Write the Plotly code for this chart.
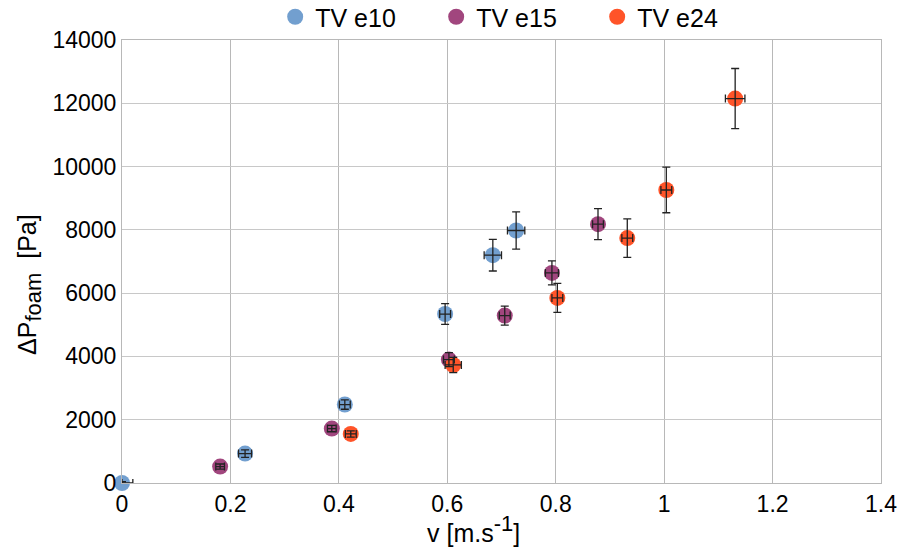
import plotly.graph_objects as go

# TV e10
e10_v = [0.0, 0.227, 0.411, 0.596, 0.684, 0.727]
e10_p = [0, 930, 2480, 5340, 7200, 7980]
e10_v_err = [0.02, 0.012, 0.01, 0.01, 0.016, 0.016]
e10_v_errm = [0.0, 0.012, 0.01, 0.01, 0.016, 0.016]
e10_p_err = [40, 120, 150, 330, 500, 590]

# TV e15
e15_v = [0.181, 0.387, 0.603, 0.706, 0.793, 0.878]
e15_p = [520, 1720, 3900, 5290, 6640, 8180]
e15_v_err = [0.008, 0.008, 0.01, 0.01, 0.012, 0.01]
e15_p_err = [80, 100, 220, 300, 380, 490]

# TV e24
e24_v = [0.422, 0.611, 0.803, 0.932, 1.004, 1.131]
e24_p = [1550, 3730, 5850, 7740, 9260, 12150]
e24_v_err = [0.01, 0.015, 0.01, 0.01, 0.01, 0.018]
e24_p_err = [100, 240, 460, 610, 720, 950]

x_ticks = [0, 0.2, 0.4, 0.6, 0.8, 1, 1.2, 1.4]
x_tick_labels = ["0", "0.2", "0.4", "0.6", "0.8", "1", "1.2", "1.4"]
y_ticks = [0, 2000, 4000, 6000, 8000, 10000, 12000, 14000]

x_title = 'v [m.s<sup><span style="font-size:22px">-1</span></sup>]'
y_title = 'ΔP<sub><span style="font-size:22px">foam</span></sub>  [Pa]'

series = [
    ("TV e10", e10_v, e10_p, e10_v_err, e10_v_errm, e10_p_err, "#729fcf"),
    ("TV e15", e15_v, e15_p, e15_v_err, e15_v_err, e15_p_err, "#a1467e"),
    ("TV e24", e24_v, e24_p, e24_v_err, e24_v_err, e24_p_err, "#ff5429"),
]

fig = go.Figure()
# markers first
for name, xv, yv, xe, xem, ye, col in series:
    fig.add_trace(go.Scatter(
        x=xv, y=yv, mode="markers", name=name, cliponaxis=False,
        marker=dict(color=col, size=16, line=dict(width=0)),
    ))
# error bars on top of markers
for name, xv, yv, xe, xem, ye, col in series:
    fig.add_trace(go.Scatter(
        x=xv, y=yv, mode="markers", name=name + " err", showlegend=False,
        cliponaxis=False,
        marker=dict(color="rgba(0,0,0,0)", size=1),
        error_x=dict(type="data", array=xe, arrayminus=xem, symmetric=False,
                     color="#222222", thickness=1.3, width=4),
        error_y=dict(type="data", array=ye, color="#222222", thickness=1.3, width=4),
        hoverinfo="skip",
    ))

fig.update_layout(
    width=903, height=550,
    margin=dict(l=122, r=22, t=40, b=67, autoexpand=False),
    paper_bgcolor="white", plot_bgcolor="white",
    font=dict(family="Liberation Sans, Arial, sans-serif", color="black", size=23),
    showlegend=True,
    legend=dict(orientation="h", x=0.52, xanchor="center", y=1.0, yanchor="bottom",
                font=dict(size=25), itemsizing="trace", itemwidth=30,
                entrywidth=116, entrywidthmode="pixels",
                bgcolor="rgba(0,0,0,0)", tracegroupgap=0),
    xaxis=dict(range=[0, 1.4], tickvals=x_ticks, ticktext=x_tick_labels,
               showgrid=True, gridcolor="#b8b8b8", gridwidth=1,
               zeroline=False, showline=True, linecolor="#b8b8b8", mirror=True,
               ticks="", tickfont=dict(size=23)),
    yaxis=dict(range=[0, 14000], tickvals=y_ticks,
               showgrid=True, gridcolor="#c8c8c8", gridwidth=1,
               zeroline=False, showline=True, linecolor="#b8b8b8", mirror=True,
               ticks="", tickfont=dict(size=23), tickformat="d"),
    annotations=[
        dict(text=x_title, xref="paper", yref="paper", x=0.4625, y=-0.103,
             xanchor="center", yanchor="middle", showarrow=False,
             font=dict(size=25)),
        dict(text=y_title, xref="paper", yref="paper", x=-0.1212, y=0.447,
             xanchor="center", yanchor="middle", showarrow=False, textangle=-90,
             font=dict(size=25)),
    ],
)

fig.write_html("out.html")
